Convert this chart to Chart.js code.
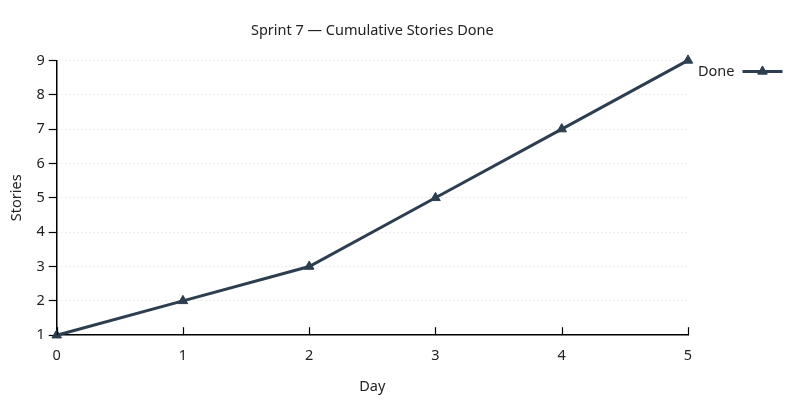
<!DOCTYPE html>
<html>
<head>
<meta charset="utf-8">
<script src="https://cdn.jsdelivr.net/npm/chart.js@4.4.0/dist/chart.umd.min.js"></script>
<style>
  html, body { margin: 0; padding: 0; background: #fff; }
  #wrap { width: 800px; height: 400px; }
</style>
</head>
<body>
<div id="wrap"><canvas id="c" width="800" height="400"></canvas></div>
<script>
// chart data
var days = [0, 1, 2, 3, 4, 5];
var doneStories = [1, 2, 3, 5, 7, 9];
var yTicks = [1, 2, 3, 4, 5, 6, 7, 8, 9];
var seriesName = 'Done';

var lineColor = '#2c3e50';
var fontSize = 14.5;
Chart.defaults.font.family = '"Noto Sans", "DejaVu Sans", sans-serif';
Chart.defaults.font.size = fontSize;
Chart.defaults.color = '#222';

// x ticks point up into the plot
var innerTicks = {
  id: 'innerTicks',
  afterDraw: function (chart) {
    var ctx = chart.ctx, xs = chart.scales.x, bottom = chart.chartArea.bottom;
    ctx.save();
    ctx.strokeStyle = '#000';
    ctx.lineWidth = 1.2;
    days.forEach(function (d, i) {
      var px = Math.round(xs.getPixelForValue(i)) + 0.5;
      ctx.beginPath(); ctx.moveTo(px, bottom); ctx.lineTo(px, bottom - 8); ctx.stroke();
    });
    ctx.restore();
  }
};

// legend to the right of the plot: text, then line + marker
var sideLegend = {
  id: 'sideLegend',
  afterDraw: function (chart) {
    var ctx = chart.ctx, area = chart.chartArea;
    var ds = chart.data.datasets[0];
    var x = area.right + 10, y = area.top + 11;
    ctx.save();
    ctx.font = fontSize + 'px ' + Chart.defaults.font.family;
    ctx.fillStyle = '#222';
    ctx.textBaseline = 'middle';
    ctx.textAlign = 'left';
    ctx.fillText(ds.label, x, y);
    var sx = x + ctx.measureText(ds.label).width + 8;
    ctx.strokeStyle = ds.borderColor;
    ctx.lineWidth = ds.borderWidth;
    ctx.beginPath(); ctx.moveTo(sx, y); ctx.lineTo(sx + 40, y); ctx.stroke();
    ctx.fillStyle = ds.backgroundColor;
    ctx.lineWidth = 1;
    Chart.helpers.drawPoint(ctx, { pointStyle: 'triangle', radius: ds.pointRadius, borderWidth: 1 }, sx + 20, y);
    ctx.restore();
  }
};

new Chart(document.getElementById('c'), {
  type: 'line',
  data: {
    labels: days.map(String),
    datasets: [{
      label: seriesName,
      data: doneStories,
      borderColor: lineColor,
      backgroundColor: lineColor,
      borderWidth: 3,
      pointStyle: 'triangle',
      pointRadius: 5.5,
      pointHoverRadius: 5.5,
      pointBorderWidth: 1,
      tension: 0,
      clip: false
    }]
  },
  options: {
    responsive: false,
    animation: false,
    layout: { padding: { left: 4, right: 112, top: 4, bottom: 4 } },
    plugins: {
      title: {
        display: true,
        fullSize: false,
        text: 'Sprint 7 \u2014 Cumulative Stories Done',
        font: { size: fontSize, weight: 'normal' },
        color: '#222',
        padding: { top: 18, bottom: 21 }
      },
      legend: { display: false },
      tooltip: { enabled: false }
    },
    scales: {
      x: {
        grid: { display: true, drawOnChartArea: false, drawTicks: false },
        border: { display: true, color: '#000', width: 1.5 },
        ticks: { padding: 12, color: '#222', maxRotation: 0 },
        title: { display: true, text: 'Day', color: '#222', padding: { top: 2, bottom: 0 } }
      },
      y: {
        min: 1,
        max: 9,
        afterBuildTicks: function (axis) {
          axis.ticks = yTicks.map(function (v) { return { value: v }; });
        },
        grid: {
          color: '#dcdcdc',
          lineWidth: 1,
          tickColor: '#000',
          tickLength: 8,
          tickWidth: 1.2,
          tickBorderDash: []
        },
        border: { display: true, color: '#000', width: 1.5, dash: [1, 3] },
        ticks: { padding: 4, color: '#222' },
        title: { display: true, text: 'Stories', color: '#222', padding: { top: 4, bottom: 7 } }
      }
    }
  },
  plugins: [innerTicks, sideLegend]
});
</script>
</body>
</html>
